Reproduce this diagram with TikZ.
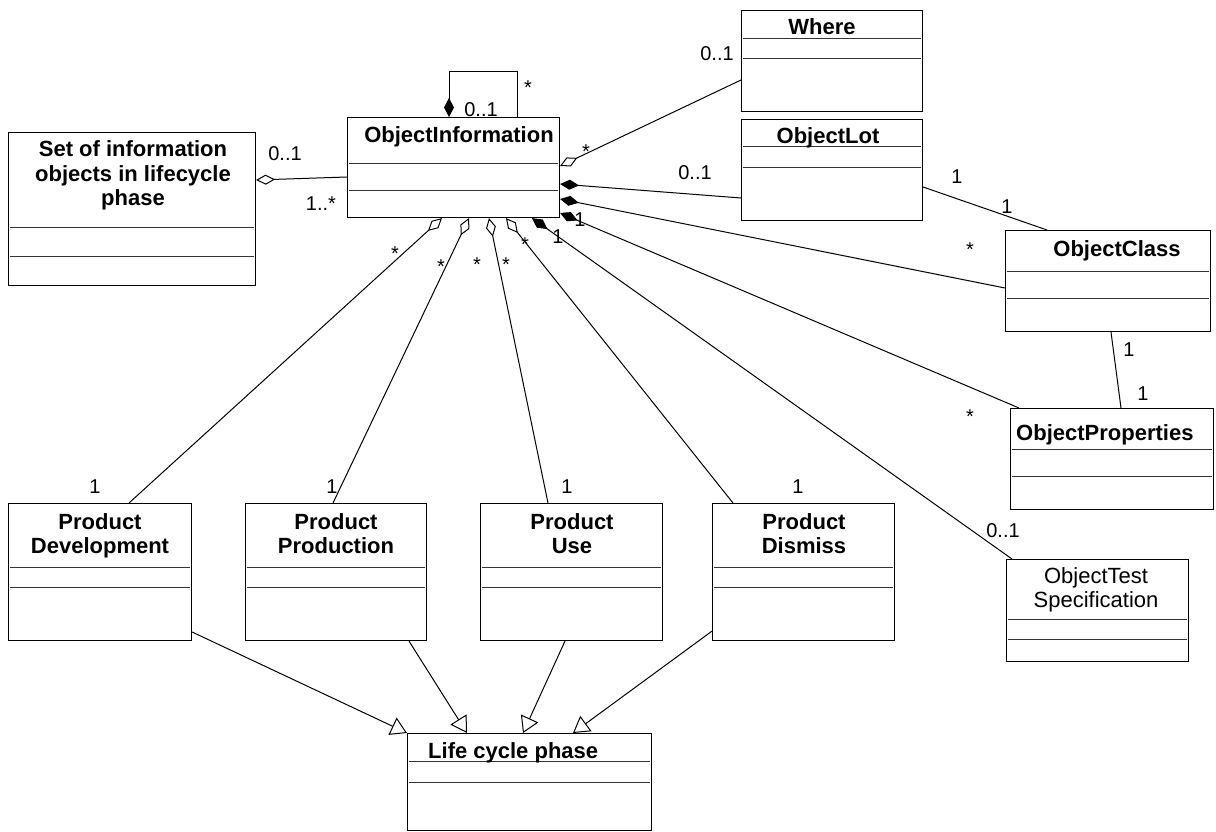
\documentclass[tikz,border=0pt]{standalone}
\usepackage{fontspec}
\setmainfont{Liberation Sans}
\usetikzlibrary{arrows.meta,calc}
\tikzset{
  cls/.style={draw, line width=1.1pt, inner sep=0pt, anchor=north west},
  sepl/.style={line width=0.9pt, black!80},
  ttl/.style={font=\fontsize{22}{24}\selectfont\bfseries, inner sep=0pt, anchor=base},
  ttlr/.style={font=\fontsize{22}{24}\selectfont, inner sep=0pt, anchor=base},
  mult/.style={font=\fontsize{20}{22}\selectfont, inner sep=0pt},
  conn/.style={line width=1pt},
  aggo/.style={conn, {Diamond[open, length=19pt, width=10pt]}-},
  compo/.style={conn, {Diamond[length=19pt, width=10pt]}-},
  gen/.style={conn, -{Triangle[open, length=16pt, width=19pt]}},
}
\newcommand\umlclass[7]{%
  \node[cls, minimum width={#4pt-#2pt}, minimum height={#5pt-#3pt}] (#1) at (#2,#3) {};
  \draw[sepl] ($(#1.north west)+(2,#6-#3)$) -- ($(#1.north east)+(-2,#6-#3)$);
  \draw[sepl] ($(#1.north west)+(2,#7-#3)$) -- ($(#1.north east)+(-2,#7-#3)$);
}
\begin{document}
\begin{tikzpicture}[x=1pt,y=-1pt]
\useasboundingbox[fill=white] (0,0) rectangle (1216,832);

% classes
\umlclass{oi}{347}{117}{559}{217}{163}{190}
\umlclass{where}{741}{10}{922}{111}{38}{58}
\umlclass{lot}{741}{119}{922}{220}{146}{167}
\umlclass{set}{8}{132}{255}{285}{227}{256}
\umlclass{cls}{1005}{230}{1210}{331}{271}{298}
\umlclass{prop}{1010}{408}{1213}{509}{449}{476}
\umlclass{test}{1006}{559}{1188}{661}{619}{639}
\umlclass{dev}{8}{503}{191}{640}{567}{587}
\umlclass{prod}{245}{503}{426}{640}{567}{587}
\umlclass{use}{480}{503}{662}{640}{567}{587}
\umlclass{dis}{712}{503}{894}{640}{567}{587}
\umlclass{lcp}{407}{733}{651}{830}{761}{782}

% titles
\node[ttl] (t-oi) at (459,143) {ObjectInformation};
\node[ttl] (t-where) at (822,35) {Where};
\node[ttl] (t-lot) at (828,144) {ObjectLot};
\node[ttl] (t-set1) at (133,157) {Set of information};
\node[ttl] (t-set2) at (133,182) {objects in lifecycle};
\node[ttl] (t-set3) at (133,205) {phase};
\node[ttl] (t-cls) at (1117,256) {ObjectClass};
\node[ttl, anchor=base west] (t-prop) at (1016,440) {ObjectProperties};
\node[ttlr] (t-test1) at (1096,583) {ObjectTest};
\node[ttlr] (t-test2) at (1096,607) {Specification};
\node[ttl] (t-dev1) at (100,529) {Product};
\node[ttl] (t-dev2) at (100,553) {Development};
\node[ttl] (t-prod1) at (336,529) {Product};
\node[ttl] (t-prod2) at (336,553) {Production};
\node[ttl] (t-use1) at (572,529) {Product};
\node[ttl] (t-use2) at (572,553) {Use};
\node[ttl] (t-dis1) at (804,529) {Product};
\node[ttl] (t-dis2) at (804,553) {Dismiss};
\node[ttl, anchor=base west] (t-lcp) at (428,758) {Life cycle phase};

% self association
\draw[compo] ($(oi.north west)+(102,0)$) -- ++(0,-45) -| ($(oi.north west)+(170,0)$);

% associations from ObjectInformation
\draw[aggo] ($(set.north east)+(0,48)$) -- ($(oi.north west)+(0,60)$);
\draw[aggo] ($(oi.north east)+(0,49)$) -- ($(where.north west)+(0,70)$);
\draw[compo] ($(oi.north east)+(0,67)$) -- ($(lot.north west)+(0,79)$);
\draw[compo] ($(oi.north east)+(0,82)$) -- ($(cls.north west)+(0,58)$);
\draw[compo] ($(oi.north east)+(0,96)$) -- ($(prop.north west)+(9,0)$);
\draw[compo] ($(oi.south west)+(185,0)$) -- ($(test.north west)+(6,0)$);
\draw[aggo] ($(oi.south west)+(159,0)$) -- ($(dis.north west)+(21,0)$);
\draw[aggo] ($(oi.south west)+(142,0)$) -- ($(use.north west)+(68,0)$);
\draw[aggo] ($(oi.south west)+(122,0)$) -- ($(prod.north west)+(88,0)$);
\draw[aggo] ($(oi.south west)+(95,0)$) -- ($(dev.north west)+(121,0)$);

% other associations
\draw[conn] ($(lot.north east)+(0,68)$) -- ($(cls.north west)+(42,0)$);
\draw[conn] ($(cls.south west)+(106,0)$) -- ($(prop.north west)+(111,0)$);

% generalizations
\draw[gen] ($(dev.north east)+(0,129)$) -- (lcp.north west);
\draw[gen] ($(prod.south west)+(164,0)$) -- ($(lcp.north west)+(60,0)$);
\draw[gen] ($(use.south west)+(85,0)$) -- ($(lcp.north west)+(116,0)$);
\draw[gen] ($(dis.south west)+(0,-10)$) -- ($(lcp.north west)+(166,0)$);

% multiplicities
\node[mult] (m1) at (528,88) {*};
\node[mult] (m2) at (481,110) {0..1};
\node[mult] (m3) at (285,154) {0..1};
\node[mult] (m4) at (321,204) {1..*};
\node[mult] (m5) at (586,152) {*};
\node[mult] (m6) at (717,54) {0..1};
\node[mult] (m7) at (695,173) {0..1};
\node[mult] (m8) at (957,177) {1};
\node[mult] (m9) at (1007,207) {1};
\node[mult] (m10) at (970,250) {*};
\node[mult] (m11) at (970,417) {*};
\node[mult] (m12) at (1129,350) {1};
\node[mult] (m13) at (1143,394) {1};
\node[mult] (m14) at (1003,531) {0..1};
\node[mult] (m15) at (580,220) {1};
\node[mult] (m16) at (558,237) {1};
\node[mult] (m17) at (395,254) {*};
\node[mult] (m18) at (441,267) {*};
\node[mult] (m19) at (477,265) {*};
\node[mult] (m20) at (506,265) {*};
\node[mult] (m21) at (525,245) {*};
\node[mult] (m22) at (95,487) {1};
\node[mult] (m23) at (332,487) {1};
\node[mult] (m24) at (567,487) {1};
\node[mult] (m25) at (798,487) {1};
\end{tikzpicture}
\end{document}
